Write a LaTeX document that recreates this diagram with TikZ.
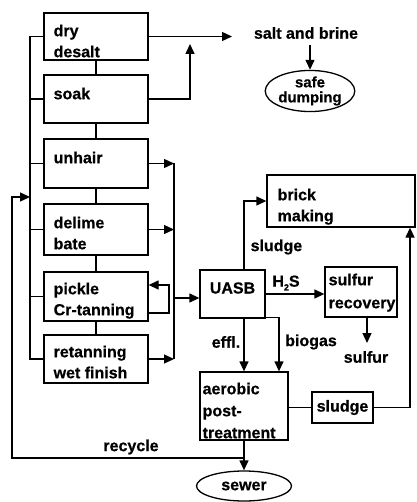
\documentclass[tikz,border=0pt]{standalone}
\usepackage{fontspec}
\setmainfont{Liberation Sans}[BoldFeatures={FakeBold=0.6}]
\usetikzlibrary{arrows.meta,shapes.geometric,calc}
\begin{document}
\begin{tikzpicture}[x=1pt,y=-1pt, line width=1.3pt,
  font=\bfseries\fontsize{16}{21}\selectfont,
  box/.style={draw, rectangle, inner sep=0pt},
  txt/.style={anchor=north west, inner sep=0pt, align=left},
  lbl/.style={inner sep=0pt},
  arr/.style={-{Triangle[length=10pt,width=9pt]}},
  oval/.style={draw, ellipse, align=center, inner sep=0pt}]
\useasboundingbox (0,0) rectangle (416,502);

% left column boxes
\node[box, minimum width=104pt, minimum height=47pt] (dd) at (96,36.5) {};
\node[box, minimum width=104pt, minimum height=48pt] (soak) at (96,99) {};
\node[box, minimum width=104pt, minimum height=49pt] (unhair) at (96,163.5) {};
\node[box, minimum width=104pt, minimum height=51pt] (delime) at (96,229.5) {};
\node[box, minimum width=104pt, minimum height=49pt] (pickle) at (96,296.5) {};
\node[box, minimum width=104pt, minimum height=48pt] (retan) at (96,359) {};

\node[txt] (tdd) at (53,24) {dry\\desalt};
\node[txt] (tsoak) at (53,87) {soak};
\node[txt] (tunhair) at (53,151) {unhair};
\node[txt] (tdelime) at (53,216) {delime\\bate};
\node[txt] (tpickle) at (53,282) {pickle\\Cr-tanning};
\node[txt] (tretan) at (53,345) {retanning\\wet finish};

% vertical chain
\draw (dd.south) -- (soak.north);
\draw (soak.south) -- (unhair.north);
\draw (unhair.south) -- (delime.north);
\draw (delime.south) -- (pickle.north);
\draw (pickle.south) -- (retan.north);

% left bus
\coordinate (bl1) at (30,36.5);
\coordinate (bl2) at (30,359);
\draw (dd.west) -- (bl1) -- (bl2) -- (retan.west);
\foreach \n in {soak,unhair,delime,pickle} \draw (\n.west) -- (\n.west -| bl1);

% recycle
\coordinate (rcA) at (12,458);
\coordinate (rcB) at (12,197);
\coordinate (rcC) at (30,197);

% salt and brine
\node[lbl] (salt) at (306,33) {salt and brine};
\node[oval, minimum width=78pt, minimum height=40pt, font=\bfseries\fontsize{15}{15}\selectfont] (safe) at (310,91) {safe\\dumping};
\coordinate (dda) at (232,36.5);
\coordinate (soaka) at (190,44);
\draw[arr] (dd.east) -- (dda);
\draw[arr] (soak.east) -| (soaka);
\draw[arr] (salt.south -| safe.north) ++(0,5) -- (safe.north);

% right bus
\coordinate (br1) at (174,163.5);
\coordinate (br2) at (174,359);
\draw (br1) -- (br2);
\draw[arr] (unhair.east) -- (unhair.east -| br1);
\draw[arr] (delime.east) -- (delime.east -| br1);
\draw[arr] (retan.east) -- (retan.east -| br1);
\coordinate (pl1) at (148,313);
\coordinate (pl2) at (169,285);
\draw[arr] (pl1) -| (pl2) -- (pl2 -| pickle.east);

% UASB
\node[box, minimum width=65pt, minimum height=48pt] (uasb) at (232.5,294) {};
\node[lbl] (tuasb) at (232.5,288) {UASB};
\coordinate (bu) at (174,298);
\draw[arr] (bu) -- (bu -| uasb.west);

% brick making
\node[box, minimum width=148pt, minimum height=52pt] (brick) at (341,201) {};
\node[txt] (tbrick) at (277,188) {brick\\making};
\coordinate (su) at (244,270);
\draw[arr] (su) |- (brick.west);
\node[lbl, anchor=west] (tsludge1) at (250,247) {sludge};

% sulfur recovery
\node[box, minimum width=72pt, minimum height=50pt] (sulf) at (361,292) {};
\node[txt, font=\bfseries\fontsize{16}{23}\selectfont] (tsulf) at (328,273) {sulfur\\recovery};
\draw[arr] (uasb.east) -- (uasb.east -| sulf.west);
\node[lbl] (th2s) at (286,283) {H\raisebox{-0.45ex}{\fontsize{9}{9}\selectfont 2}S};
\coordinate (sf) at (367,317);
\draw[arr] (sf) -- ++(0,26);
\node[lbl] (tsulfur) at (366,357) {sulfur};

% aerobic post-treatment
\node[box, minimum width=88pt, minimum height=68pt] (aer) at (244,406) {};
\node[txt, font=\bfseries\fontsize{16}{22}\selectfont] (taer) at (202,382) {aerobic\\post-\\treatment};
\draw[arr] (uasb.south -| 244,0) -- (aer.north -| 244,0);
\node[lbl] (teffl) at (226,342) {effl.};
\draw[arr] ([yshift=1.5pt]uasb.south east) -| (aer.north -| 279,0);
\node[lbl] (tbiogas) at (311,342) {biogas};

% sludge box
\node[box, minimum width=61pt, minimum height=31pt] (sl) at (342.5,407.5) {sludge};
\draw (sl.west -| aer.east) -- (sl.west);
\draw[arr] (sl.east) -| (brick.south -| 410,0);

% sewer
\node[oval, minimum width=95pt, minimum height=30pt] (sewer) at (244,486) {sewer};
\draw[arr] (aer.south) -- (sewer.north);
\coordinate (rc) at (244,458);
\draw[arr] (rc) -- (rcA) -- (rcB) -- (rcC);
\node[lbl] (trecycle) at (131,447) {recycle};
\end{tikzpicture}
\end{document}
